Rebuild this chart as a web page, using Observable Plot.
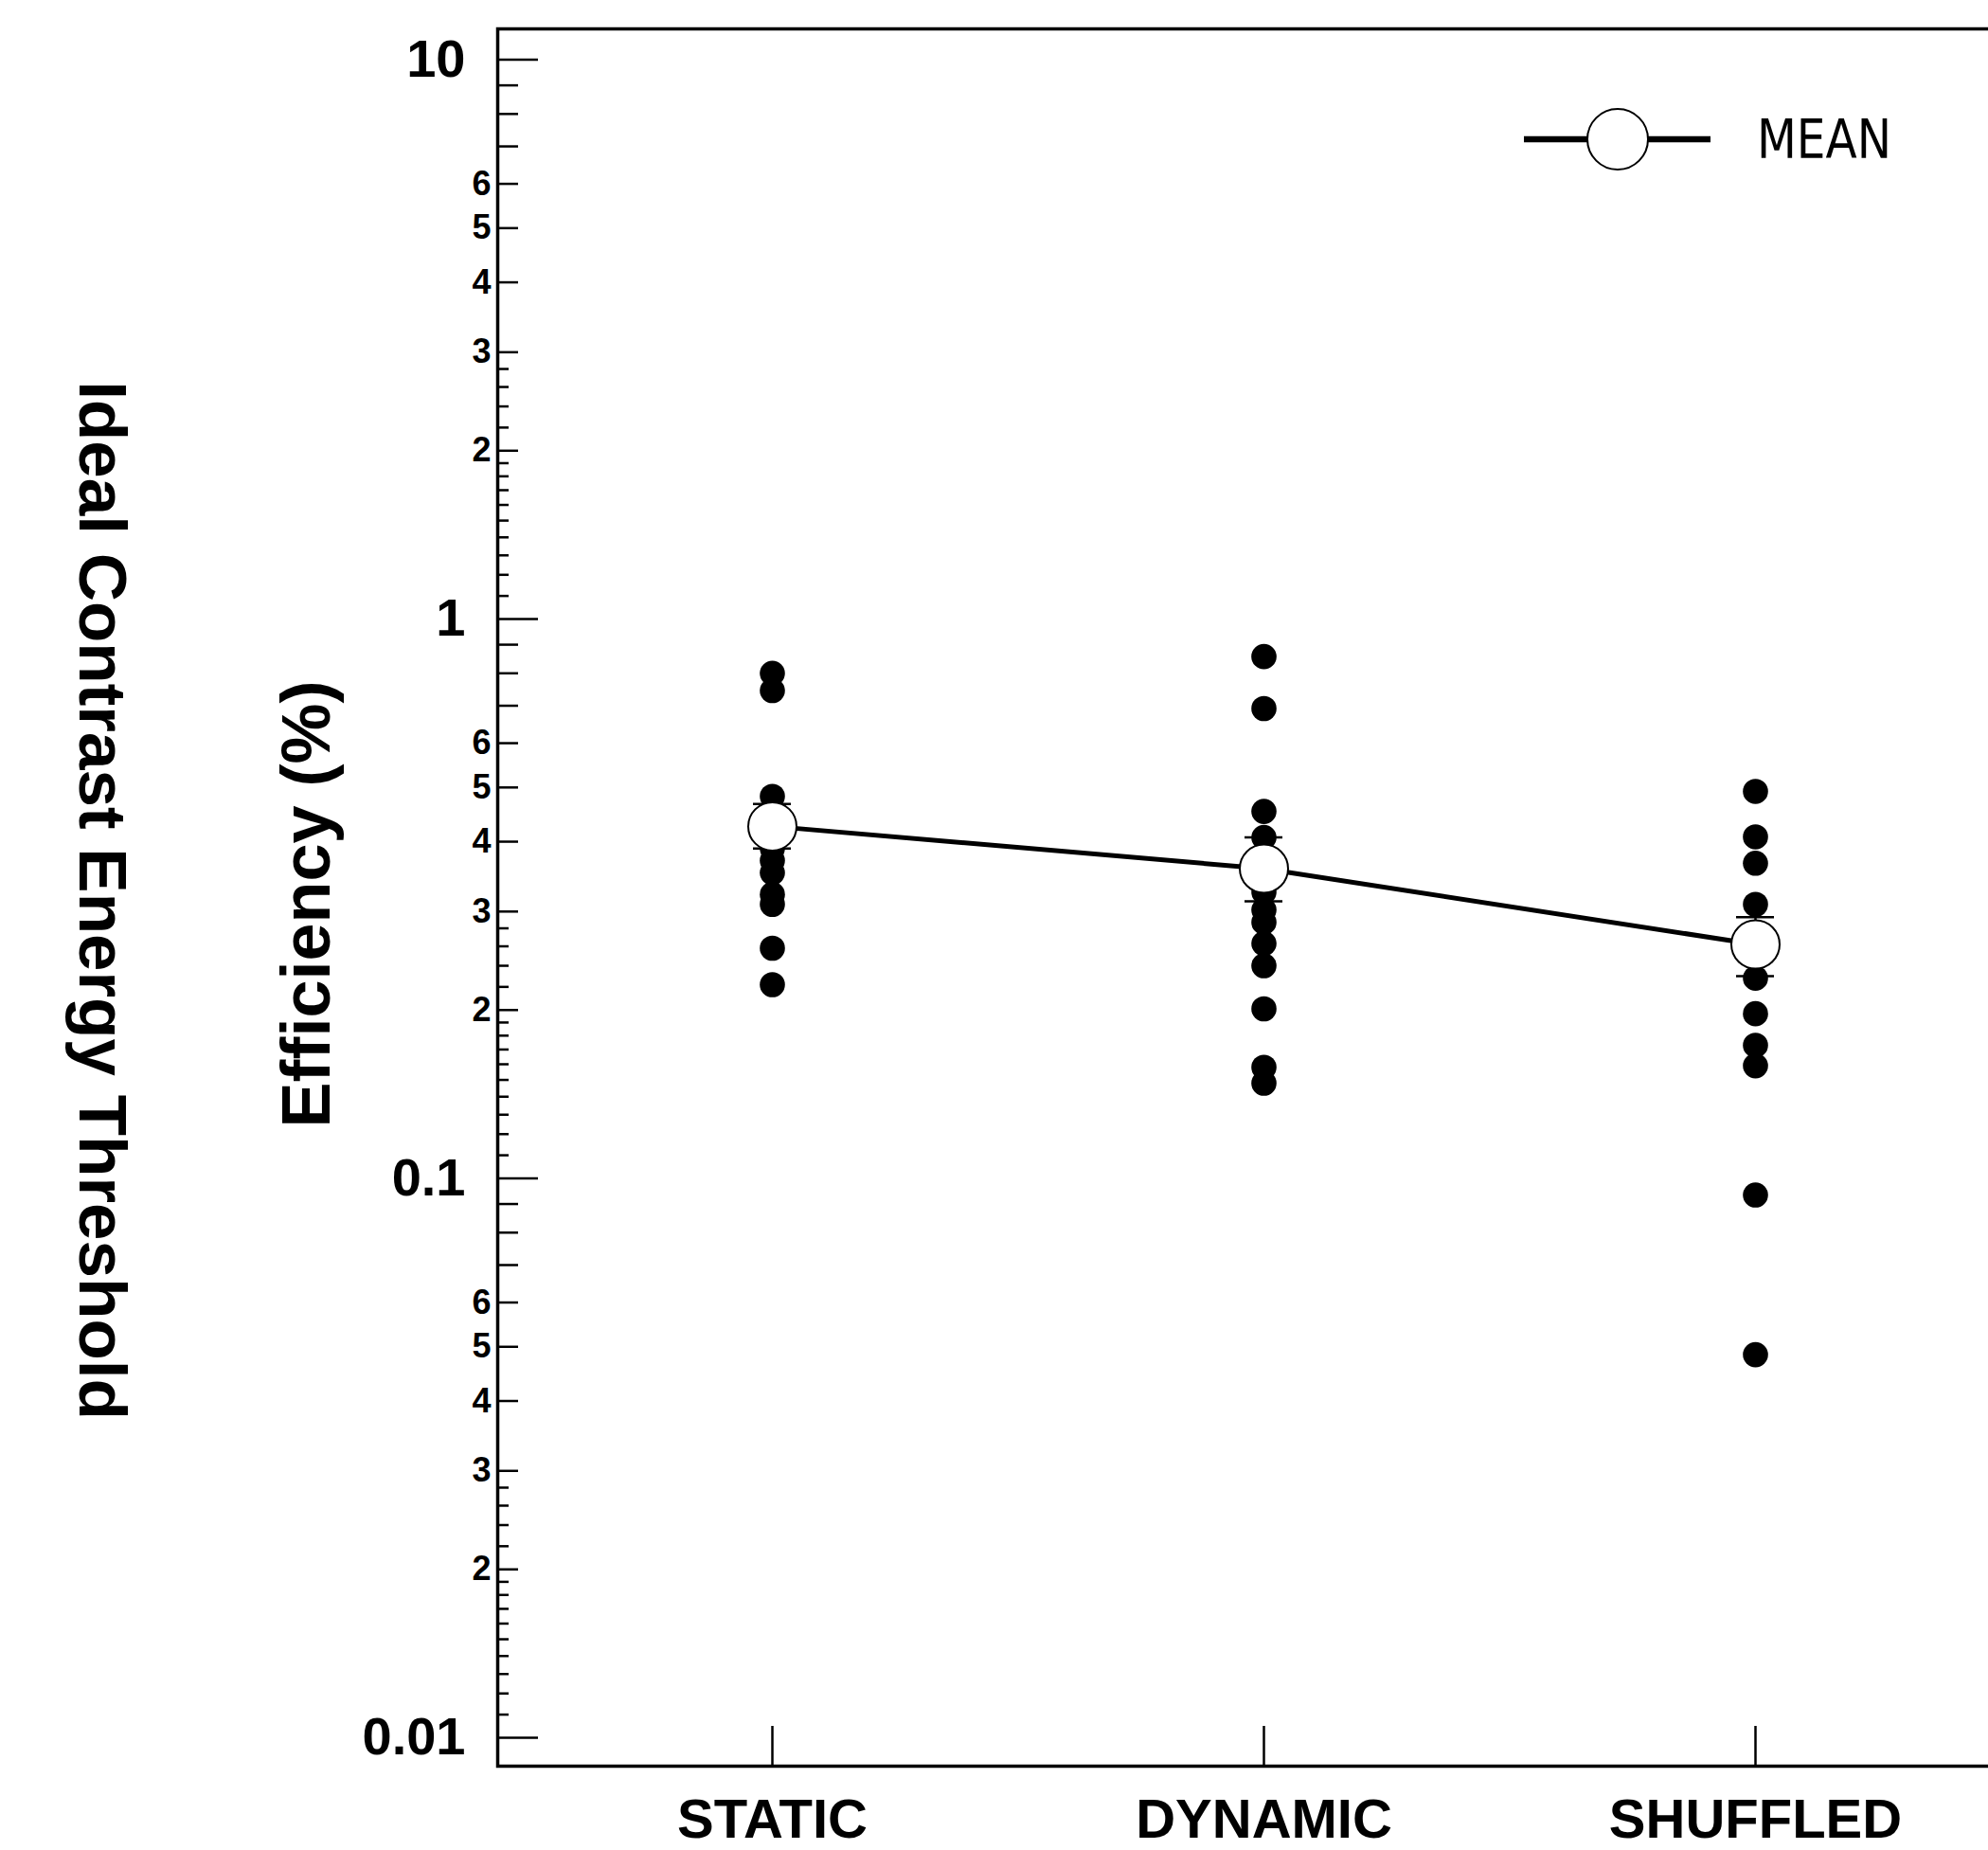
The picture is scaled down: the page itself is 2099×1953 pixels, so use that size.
<!DOCTYPE html>
<html>
<head>
<meta charset="utf-8">
<script src="https://cdn.jsdelivr.net/npm/d3@7"></script>
<script src="https://cdn.jsdelivr.net/npm/@observablehq/plot@0.6"></script>
<style>
  html, body { margin: 0; padding: 0; background: #fff; }
  #wrap { position: relative; width: 2099px; height: 1953px; overflow: hidden; }
</style>
</head>
<body>
<div id="wrap"></div>
<script>
// ---------------- data ----------------
const categories = ["STATIC", "DYNAMIC", "SHUFFLED"];
const staticValues = [0.80, 0.745, 0.482, 0.389, 0.370, 0.352, 0.322, 0.309, 0.258, 0.222];
const dynamicValues = [0.857, 0.692, 0.453, 0.407, 0.325, 0.302, 0.287, 0.263, 0.240, 0.201, 0.158, 0.148];
const shuffledValues = [0.492, 0.408, 0.366, 0.309, 0.228, 0.197, 0.173, 0.159, 0.0934, 0.0484];
const meanValues = [0.426, 0.358, 0.262];
const errLow = [0.389, 0.313, 0.230];
const errHigh = [0.467, 0.407, 0.293];

const decadeTicks = [0.01, 0.1, 1, 10];
const decadeLabels = ["0.01", "0.1", "1", "10"];
const minorDecades = [0.01, 0.1, 1];
const mediumMantissas = [2, 3, 4, 5, 6, 7, 8, 9];
const smallMantissas = [1.1, 1.2, 1.3, 1.4, 1.5, 1.6, 1.7, 1.8, 1.9, 2.2, 2.4, 2.6, 2.8];
const labeledMantissas = [2, 3, 4, 5, 6];

const yTitle = "Efficiency (%)";
const yTitleOuter = "Ideal Contrast Energy Threshold";
const legendLabel = "MEAN";

// ---------------- tables ----------------
const seriesByCategory = [staticValues, dynamicValues, shuffledValues];
const points = categories.flatMap((c, i) => seriesByCategory[i].map(v => ({cat: c, v})));
const means = categories.map((c, i) => ({cat: c, v: meanValues[i], lo: errLow[i], hi: errHigh[i]}));
const mediumTicks = minorDecades.flatMap(d => mediumMantissas.map(m => m * d));
const smallTicks = minorDecades.flatMap(d => smallMantissas.map(m => m * d));
const minorLabels = minorDecades.flatMap(d => labeledMantissas.map(m => ({v: m * d, t: String(m)})));

// ---------------- layout ----------------
const W = 2099, H = 1953;
const mL = 525, mT = 30, mB = 89, mR = 0;
const frameW = W - mL - mR, frameH = H - mT - mB;
const font = "'Liberation Sans', Arial, Helvetica, sans-serif";

const chart = Plot.plot({
  width: W, height: H,
  marginLeft: mL, marginTop: mT, marginBottom: mB, marginRight: mR,
  style: {fontFamily: font, background: "white", color: "black"},
  x: {type: "point", domain: categories, range: [815, 1853], padding: 0, axis: null},
  y: {type: "log", domain: [0.008896, 11.355], axis: null},
  marks: [
    Plot.frame({stroke: "black", strokeWidth: 3.5, insetRight: -20}),
    // y ticks (inward)
    Plot.ruleY(decadeTicks, {y: d => d, stroke: "black", strokeWidth: 2.5, insetRight: frameW - 43}),
    Plot.ruleY(mediumTicks, {y: d => d, stroke: "black", strokeWidth: 2.5, insetRight: frameW - 22}),
    Plot.ruleY(smallTicks, {y: d => d, stroke: "black", strokeWidth: 2.5, insetRight: frameW - 12}),
    // y tick labels
    Plot.text(decadeTicks, {y: d => d, text: (d, i) => decadeLabels[i], frameAnchor: "left", textAnchor: "end",
      lineAnchor: "middle", dx: -34, fontSize: 56, fontWeight: "bold", fontFamily: font, fill: "black"}),
    Plot.text(minorLabels, {y: "v", text: "t", frameAnchor: "left", textAnchor: "end",
      lineAnchor: "middle", dx: -7, fontSize: 36, fontWeight: "bold", fontFamily: font, fill: "black"}),
    // x ticks (inward) and labels
    Plot.ruleX(categories, {x: d => d, stroke: "black", strokeWidth: 2.5, insetTop: frameH - 42}),
    Plot.text(categories, {x: d => d, text: d => d, frameAnchor: "bottom", textAnchor: "middle", lineAnchor: "middle",
      dy: 57, fontSize: 58, fontWeight: "bold", fontFamily: font, fill: "black"}),
    // titles
    Plot.text([yTitle], {text: d => d, frameAnchor: "left", textAnchor: "middle", lineAnchor: "middle",
      dx: -201, dy: 7, rotate: -90, fontSize: 72, fontWeight: "bold", fontFamily: font, fill: "black"}),
    Plot.text([yTitleOuter], {text: d => d, frameAnchor: "left", textAnchor: "middle", lineAnchor: "middle",
      dx: -419, dy: 3, rotate: 90, fontSize: 71, fontWeight: "bold", fontFamily: font, fill: "black"}),
    // individual data
    Plot.dot(points, {x: "cat", y: "v", r: 13.3, fill: "black", stroke: "none"}),
    // mean line
    Plot.line(means, {x: "cat", y: "v", stroke: "black", strokeWidth: 5}),
    // error bars
    Plot.ruleX(means, {x: "cat", y1: "lo", y2: "hi", stroke: "black", strokeWidth: 2.5}),
    Plot.ruleY(means, {y: "lo", x1: "cat", x2: "cat", insetLeft: -20, insetRight: -20, stroke: "black", strokeWidth: 2.5}),
    Plot.ruleY(means, {y: "hi", x1: "cat", x2: "cat", insetLeft: -20, insetRight: -20, stroke: "black", strokeWidth: 2.5}),
    // means
    Plot.dot(means, {x: "cat", y: "v", r: 25.5, fill: "white", stroke: "black", strokeWidth: 2})
  ]
});

const wrap = document.getElementById("wrap");
wrap.appendChild(chart);

// legend overlay
const legend = d3.create("svg")
  .attr("width", W).attr("height", 230)
  .style("position", "absolute").style("left", "0px").style("top", "0px");
legend.append("line").attr("x1", 1609).attr("x2", 1806).attr("y1", 147).attr("y2", 147)
  .attr("stroke", "black").attr("stroke-width", 6.5);
legend.append("circle").attr("cx", 1708).attr("cy", 147).attr("r", 32)
  .attr("fill", "white").attr("stroke", "black").attr("stroke-width", 2);
legend.append("text").attr("x", 1855).attr("y", 167)
  .attr("font-family", "'DejaVu Sans', Verdana, sans-serif").attr("font-size", 57)
  .attr("textLength", 142).attr("lengthAdjust", "spacingAndGlyphs")
  .attr("fill", "black").text(legendLabel);
wrap.appendChild(legend.node());
</script>
</body>
</html>
